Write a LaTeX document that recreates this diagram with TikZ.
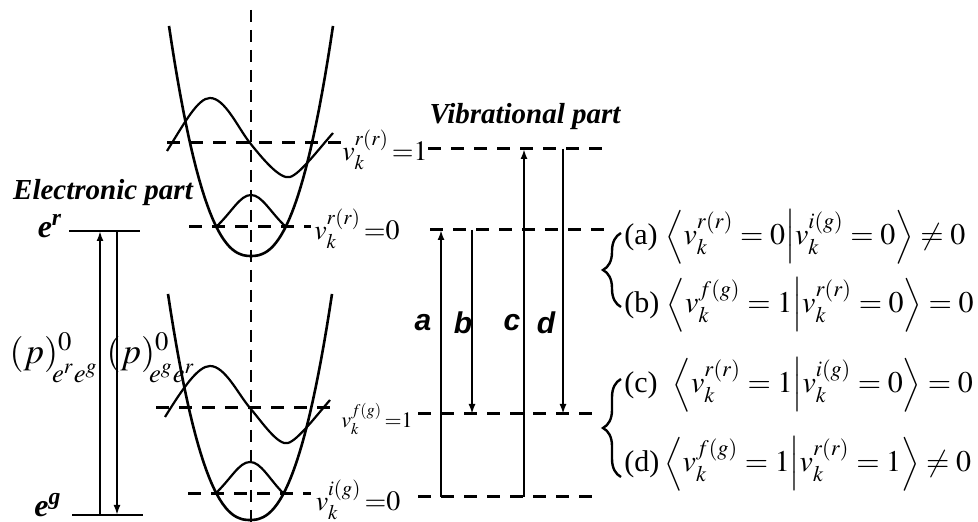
\documentclass[tikz,border=0pt]{standalone}
\usepackage{amsmath}
\usepackage{amssymb}
\usepackage{mathptmx}
\usepackage[no-math]{fontspec}
\setmainfont{Liberation Serif}
\newfontfamily\arialfont{Liberation Sans}
\usetikzlibrary{arrows.meta, decorations.pathreplacing}

\begin{document}
\begin{tikzpicture}[x=0.5pt, y=-0.5pt,
  well/.style={line width=1.3pt},
  wave/.style={line width=1.1pt},
  lvl/.style={line width=1.5pt, dash pattern=on 6.5pt off 5pt},
  axis/.style={line width=1.2pt, dash pattern=on 6pt off 4pt},
  elev/.style={line width=1.3pt},
  arr/.style={line width=1pt, -{Latex[length=5pt,width=3.5pt]}},
  brc/.style={decorate, decoration={brace, amplitude=9pt}, line width=1.2pt},
  ttl/.style={font=\fontsize{14.5}{16}\selectfont\bfseries\itshape, inner sep=0pt},
  elab/.style={font=\fontsize{16}{18}\selectfont\bfseries\itshape, inner sep=0pt},
  lbl/.style={font=\fontsize{14}{16}\selectfont, inner sep=0pt},
  tr/.style={font=\fontsize{15}{17}\selectfont\arialfont\bfseries\itshape, inner sep=0pt},
  pml/.style={font=\fontsize{18}{21}\selectfont, inner sep=0pt},
  eqn/.style={anchor=west, inner sep=0pt, font=\fontsize{15}{18}\selectfont}]
  \useasboundingbox (0,0) rectangle (978,522);

  % potential wells
  \draw[axis] (251,10) -- (251,522);
  \draw[well] plot[domain=-82:82, samples=61] ({251+\x},{256-230*pow(abs(\x)/82+0.0001,2.4)});
  \draw[well] plot[domain=-82:82, samples=61] ({250+\x},{520-226*pow(abs(\x)/82+0.0001,2.4)});

  % vibrational levels beside the wells
  \coordinate (u1w) at (167,143); \coordinate (u1e) at (341,143);
  \coordinate (u0w) at (189,227); \coordinate (u0e) at (311,227);
  \coordinate (l1w) at (156,408); \coordinate (l1e) at (333,408);
  \coordinate (l0w) at (188,494); \coordinate (l0e) at (311,494);
  \draw[lvl] (u1w) -- (u1e);
  \draw[lvl] (u0w) -- (u0e);
  \draw[lvl] (l1w) -- (l1e);
  \draw[lvl] (l0w) -- (l0e);

  % wave functions
  \draw[wave] (167,151) .. controls (185,122) and (198,98) .. (210,98)
    .. controls (225,98) and (238,128) .. (250,143)
    .. controls (262,158) and (280,180) .. (290,177)
    .. controls (300,174) and (318,150) .. (333,133);
  \draw[wave] (216,227) .. controls (232,212) and (240,195) .. (251,195)
    .. controls (262,195) and (270,212) .. (286,227);
  \draw[wave] (165,417) .. controls (183,388) and (198,366) .. (210,366)
    .. controls (225,366) and (238,394) .. (250,408)
    .. controls (262,422) and (278,446) .. (288,443)
    .. controls (298,440) and (316,416) .. (330,400);
  \draw[wave] (215,494) .. controls (231,479) and (239,462) .. (250,462)
    .. controls (261,462) and (269,479) .. (284,494);

  \node[lbl] (vr1) at (385,150) {$v_k^{r(r)}\,{=}1$};
  \node[lbl] (vr0) at (357,229) {$v_k^{r(r)}\,{=}0$};
  \node[lbl, font=\fontsize{11}{13}\selectfont] (vf1) at (377,419) {$v_k^{f(g)}\,{=}1$};
  \node[lbl] (vi0) at (358,500) {$v_k^{i(g)}\,{=}0$};

  % electronic part
  \node[ttl] (elec) at (103,193) {Electronic part};
  \coordinate (erw) at (69,231); \coordinate (ere) at (140,231);
  \coordinate (egw) at (72,515); \coordinate (ege) at (143,515);
  \draw[elev] (erw) -- (ere);
  \draw[elev] (egw) -- (ege);
  \node[elab] (er) at (50,226) {e\textsuperscript{r}};
  \node[elab] (eg) at (48,505) {e\textsuperscript{g}};
  \coordinate (xup) at (100,0); \coordinate (xdn) at (117,0);
  \draw[arr] (xup |- egw) -- (xup |- erw);
  \draw[arr] (xdn |- erw) -- (xdn |- egw);
  \node[pml] (pup) at (54,358) {$(p)^{0}_{\kern-3pt\raisebox{-5pt}{$\scriptstyle e^{r}e^{g}$}}$};
  \node[pml] (pdn) at (151,358) {$(p)^{0}_{\kern-3pt\raisebox{-5pt}{$\scriptstyle e^{g}e^{r}$}}$};

  % vibrational part
  \node[ttl] (vib) at (525,117) {Vibrational part};
  \coordinate (r1w) at (428,149); \coordinate (r1e) at (606,149);
  \coordinate (r0w) at (430,230); \coordinate (r0e) at (606,230);
  \coordinate (f1w) at (418,414); \coordinate (f1e) at (596,414);
  \coordinate (i0w) at (418,497); \coordinate (i0e) at (596,497);
  \draw[lvl] (r1w) -- (r1e);
  \draw[lvl] (r0w) -- (r0e);
  \draw[lvl] (f1w) -- (f1e);
  \draw[lvl] (i0w) -- (i0e);
  \coordinate (xa) at (441,0); \coordinate (xb) at (472,0);
  \coordinate (xc) at (524,0); \coordinate (xd) at (563,0);
  \draw[arr] (xa |- i0w) -- (xa |- r0w);
  \draw[arr] (xb |- r0w) -- (xb |- f1w);
  \draw[arr] (xc |- i0w) -- (xc |- r1w);
  \draw[arr] (xd |- r1w) -- (xd |- f1w);
  \node[tr] (ta) at (423,323) {a};
  \node[tr] (tb) at (463,323) {b};
  \node[tr] (tc) at (512,323) {c};
  \node[tr] (td) at (546,323) {d};

  % selection rules
  \draw[brc] (621,307) -- (621,233);
  \draw[brc] (621,477) -- (621,379);
  \node[eqn] (qa) at (624,237) {(a) $\left\langle v_k^{r(r)}=0\middle|v_k^{i(g)}=0\right\rangle\neq 0$};
  \node[eqn] (qb) at (624,305) {(b) $\left\langle v_k^{f(g)}=1\middle|v_k^{r(r)}=0\right\rangle=0$};
  \node[eqn] (qc) at (624,385) {(c)\ \ $\left\langle v_k^{r(r)}=1\middle|v_k^{i(g)}=0\right\rangle=0$};
  \node[eqn] (qd) at (624,464) {(d)\,$\left\langle v_k^{f(g)}=1\middle|v_k^{r(r)}=1\right\rangle\neq 0$};
\end{tikzpicture}
\end{document}
